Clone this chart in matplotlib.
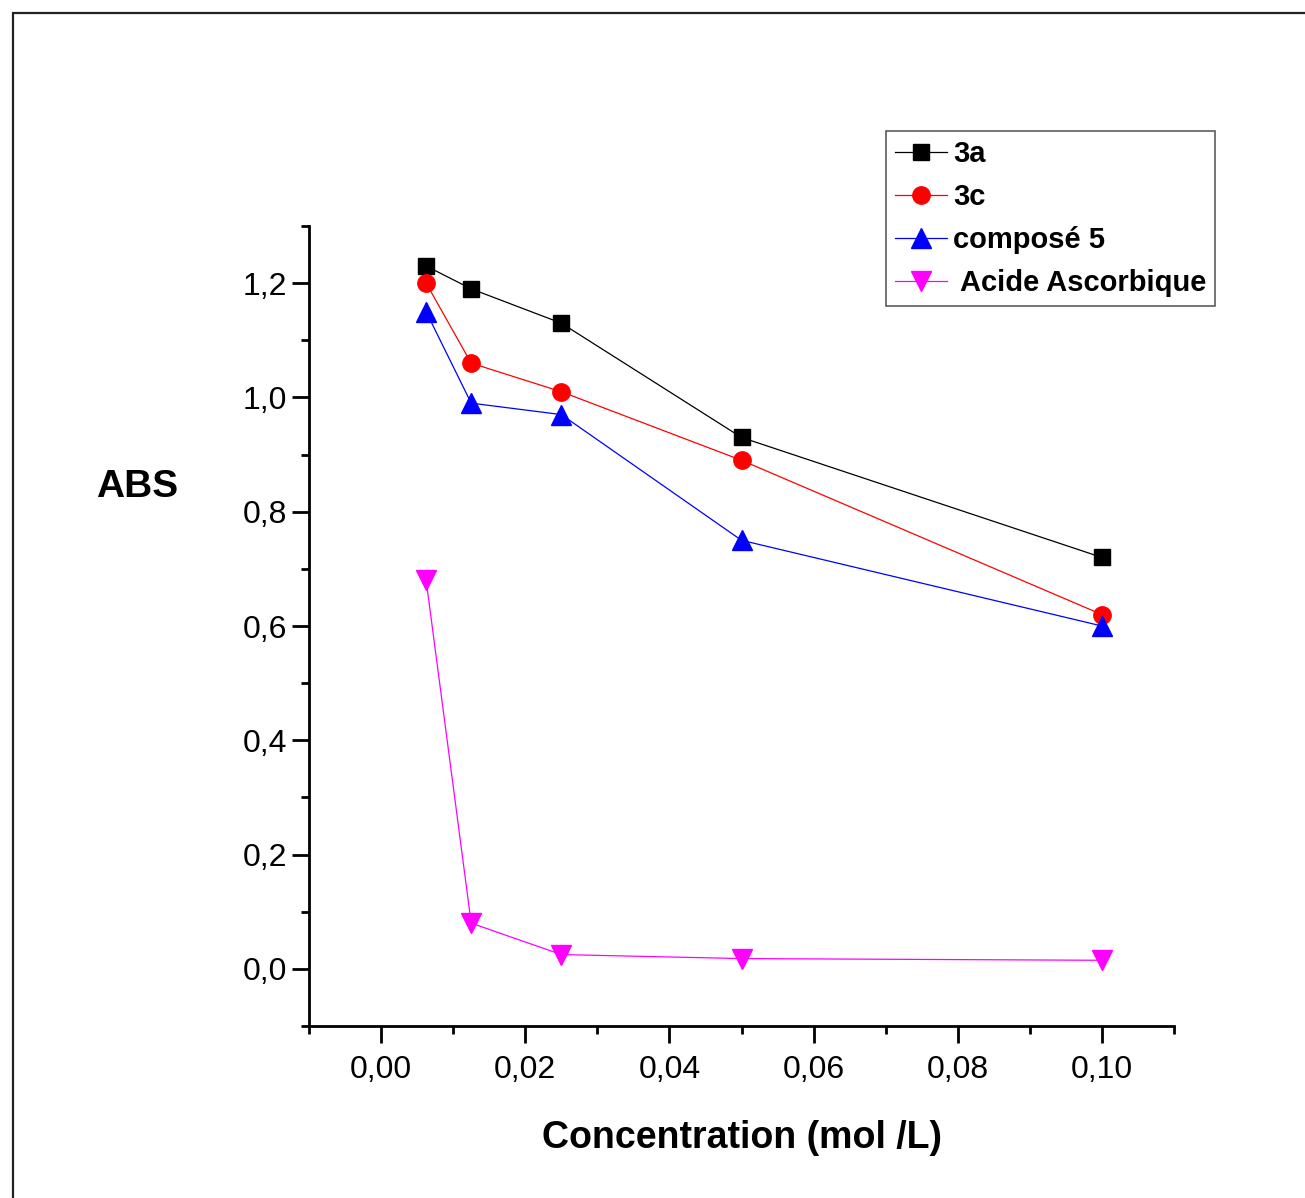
import matplotlib
matplotlib.use("Agg")
import matplotlib.pyplot as plt
from matplotlib.patches import Rectangle
from matplotlib.ticker import MultipleLocator, FuncFormatter

plt.rcParams['font.family'] = ['Liberation Sans', 'DejaVu Sans']

# data
conc = [0.00625, 0.0125, 0.025, 0.05, 0.1]
abs_3a = [1.23, 1.19, 1.13, 0.93, 0.72]
abs_3c = [1.20, 1.06, 1.01, 0.89, 0.62]
abs_c5 = [1.15, 0.99, 0.97, 0.75, 0.60]
abs_aa = [0.68, 0.08, 0.025, 0.018, 0.015]
labels = ['3a', '3c', 'composé 5', ' Acide Ascorbique']

fig = plt.figure(figsize=(13.05, 11.98), dpi=100)
# frame round the whole picture
fig.patches.append(Rectangle((13/1305, -0.01), 1.0, (1198-13)/1198 + 0.01,
                             transform=fig.transFigure, fill=False,
                             edgecolor='#222222', linewidth=1.6))

ax = fig.add_axes([309/1305, 1 - 1026/1198, (1174-309)/1305, (1026-226)/1198])

ax.plot(conc, abs_3a, color='black', lw=0.9, marker='s', ms=11.5, label=labels[0])
ax.plot(conc, abs_3c, color='red', lw=0.9, marker='o', ms=12.5, label=labels[1])
ax.plot(conc, abs_c5, color='blue', lw=0.9, marker='^', ms=14, label=labels[2])
ax.plot(conc, abs_aa, color='magenta', lw=0.9, marker='v', ms=14, label=labels[3])

ax.set_xlim(-0.01, 0.11)
ax.set_ylim(-0.1, 1.3)
ax.xaxis.set_major_locator(MultipleLocator(0.02))
ax.xaxis.set_minor_locator(MultipleLocator(0.01))
ax.yaxis.set_major_locator(MultipleLocator(0.2))
ax.yaxis.set_minor_locator(MultipleLocator(0.1))
ax.xaxis.set_major_formatter(FuncFormatter(lambda v, p: ('%.2f' % v).replace('.', ',') if v > -0.005 and v < 0.105 else ''))
ax.yaxis.set_major_formatter(FuncFormatter(lambda v, p: ('%.1f' % v).replace('.', ',').replace('-0,0', '0,0') if v > -0.05 and v < 1.25 else ''))

for s in ['top', 'right']:
    ax.spines[s].set_visible(False)
for s in ['left', 'bottom']:
    ax.spines[s].set_linewidth(2)
ax.tick_params(which='major', direction='out', length=12, width=2, labelsize=23)
ax.tick_params(which='minor', direction='out', length=6, width=2)
ax.tick_params(axis='y', pad=4)
ax.tick_params(axis='x', pad=9)

ax.set_xlabel('Concentration (mol /L)', fontsize=27, fontweight='bold', labelpad=25)
fig.text(137/1305, 1 - 487/1198, 'ABS', fontsize=28, fontweight='bold', ha='center', va='center')

leg = ax.legend(loc='upper left', bbox_to_anchor=(886/1305, 1 - 131/1198), bbox_transform=fig.transFigure,
                prop={'size': 21, 'weight': 'bold'}, frameon=True, fancybox=False,
                handlelength=1.8, handletextpad=0.2, labelspacing=0.52, borderpad=0.3,
                borderaxespad=0)
leg.get_frame().set_edgecolor('#333333')
leg.get_frame().set_linewidth(1.2)

fig.savefig('out.png', dpi=100)
